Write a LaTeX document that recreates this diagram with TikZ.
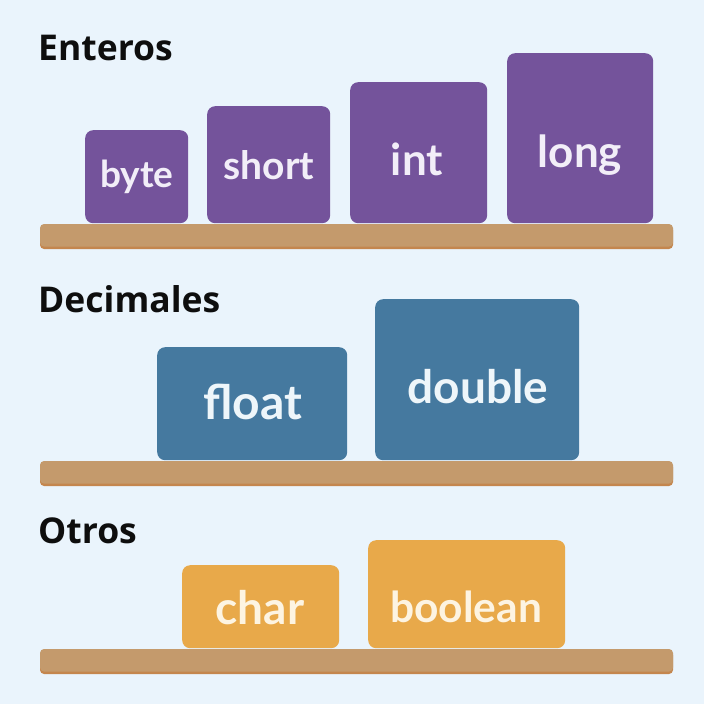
\documentclass[tikz,border=0pt]{standalone}
\usepackage{fontspec}
\setmainfont{Open Sans}
\newfontfamily\boxfont{Lato}
\definecolor{bgc}{HTML}{EAF4FC}
\definecolor{purp}{HTML}{74539B}
\definecolor{purpt}{HTML}{F2EEF8}
\definecolor{blu}{HTML}{45799F}
\definecolor{blut}{HTML}{EEF6FA}
\definecolor{ora}{HTML}{E8A94A}
\definecolor{orat}{HTML}{FDF4E2}
\definecolor{shelfc}{HTML}{C49A6C}
\definecolor{shelfe}{HTML}{C4864E}
\definecolor{titlec}{HTML}{0E0E0E}
\tikzset{
  title/.style={anchor=base west, inner sep=0pt, text=titlec, font=\fontsize{35.5}{40}\selectfont\bfseries},
  tbox/.style={rounded corners=8pt, inner sep=0pt, draw=none, anchor=north west},
  lbl/.style={anchor=base, inner sep=0pt, font=\boxfont\bfseries\fontsize{#1}{#1}\selectfont},
}
\begin{document}
\begin{tikzpicture}[x=1pt,y=-1pt]
\fill[bgc] (0,0) rectangle (704,704);
\useasboundingbox (0,0) rectangle (704,704);
% shelves
\foreach \y in {224,461,649}{
  \fill[shelfe, rounded corners=4pt] (40,\y+2) rectangle (673,\y+25);
  \fill[shelfc, rounded corners=4pt] (40,\y) rectangle (673,\y+22.5);
}
% titles
\node[title] (tEnteros) at (38,60) {Enteros};
\node[title] (tDecimales) at (38,312) {Decimales};
\node[title] (tOtros) at (38,543) {Otros};
% Enteros
\node[tbox, fill=purp, minimum width=103pt, minimum height=93pt] (bbyte) at (85,130) {};
\node[tbox, fill=purp, minimum width=123pt, minimum height=117pt] (bshort) at (207,106) {};
\node[tbox, fill=purp, minimum width=137pt, minimum height=141pt] (bint) at (350,82) {};
\node[tbox, fill=purp, minimum width=146pt, minimum height=170pt] (blong) at (507,53) {};
\node[lbl=37, text=purpt] (lbyte) at (137,187) {byte};
\node[lbl=39, text=purpt] (lshort) at (269,179) {short};
\node[lbl=44, text=purpt] (lint) at (417,175) {int};
\node[lbl=44, text=purpt] (llong) at (580,167) {long};
% Decimales
\node[tbox, fill=blu, minimum width=190pt, minimum height=113pt] (bfloat) at (157,347) {};
\node[tbox, fill=blu, minimum width=204pt, minimum height=161pt] (bdouble) at (375,299) {};
\node[lbl=48, text=blut] (lfloat) at (253,419) {float};
\node[lbl=46, text=blut] (ldouble) at (478,403) {double};
% Otros
\node[tbox, fill=ora, minimum width=157pt, minimum height=83pt] (bchar) at (182,565) {};
\node[tbox, fill=ora, minimum width=197pt, minimum height=108pt] (bboolean) at (368,540) {};
\node[lbl=46, text=orat] (lchar) at (260,624) {char};
\node[lbl=42.5, text=orat] (lboolean) at (466,622) {boolean};
\end{tikzpicture}
\end{document}
